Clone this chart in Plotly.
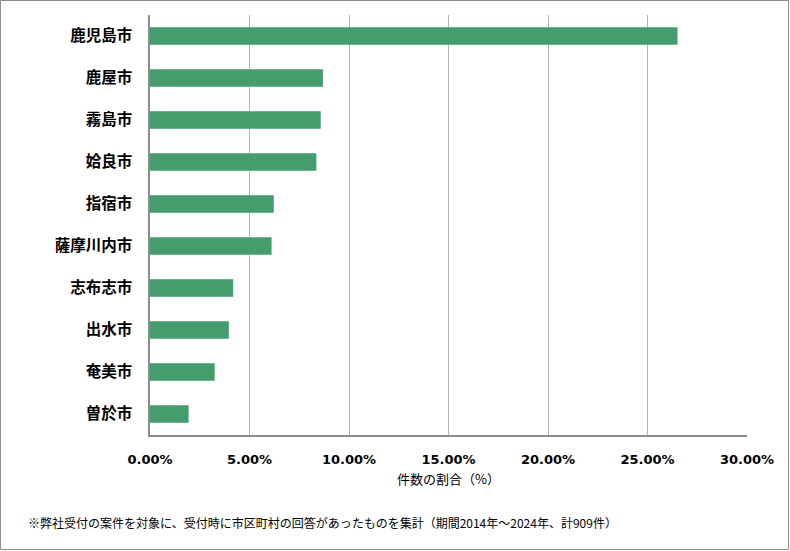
import plotly.graph_objects as go

cities = ["鹿児島市", "鹿屋市", "霧島市", "姶良市", "指宿市", "薩摩川内市", "志布志市", "出水市", "奄美市", "曽於市"]
shares = [26.51, 8.69, 8.58, 8.36, 6.22, 6.11, 4.18, 3.96, 3.25, 1.94]
tick_vals = [0, 5, 10, 15, 20, 25, 30]
tick_text = ["0.00%", "5.00%", "10.00%", "15.00%", "20.00%", "25.00%", "30.00%"]

W, H = 790, 551
L, R, T, B = 150, 43, 15, 116
pw, ph = W - L - R, H - T - B

fig = go.Figure(go.Bar(
    x=shares, y=cities, orientation="h",
    marker=dict(color="#459D6D", line=dict(width=0)),
    width=0.42,
))

fig.update_layout(
    width=W, height=H,
    margin=dict(l=L, r=R, t=T, b=B),
    paper_bgcolor="white", plot_bgcolor="white",
    showlegend=False,
    xaxis=dict(
        range=[0, 30], tickvals=tick_vals, ticktext=tick_text,
        showgrid=True, gridcolor="#b4b4b4", gridwidth=1,
        showline=True, linecolor="#8c8c8c", linewidth=1.5,
        zeroline=False, ticks="", ticklabelstandoff=12,
        tickfont=dict(family="DejaVu Sans", size=13, color="#000000", weight="bold"),
        title=dict(text="件数の割合（%）", standoff=9,
                   font=dict(family="Noto Sans CJK JP", size=13, color="#000000")),
        fixedrange=True,
    ),
    yaxis=dict(
        autorange="reversed",
        showline=True, linecolor="#8c8c8c", linewidth=1.5,
        showgrid=False, zeroline=False, ticks="", ticklabelstandoff=13,
        tickfont=dict(family="Noto Sans CJK JP", size=15.5, color="#000000", weight="bold"),
        fixedrange=True,
    ),
    annotations=[dict(
        text="※弊社受付の案件を対象に、受付時に市区町村の回答があったものを集計（期間2014年～2024年、計909件）",
        xref="paper", yref="paper",
        x=(26 - L) / pw, y=(T + ph - 522) / ph,
        xanchor="left", yanchor="middle", showarrow=False,
        font=dict(family="Noto Sans CJK JP", size=12, color="#000000"),
    )],
    shapes=[dict(
        type="rect", xref="paper", yref="paper",
        x0=(0.5 - L) / pw, x1=(W - 1.5 - L) / pw,
        y0=(T + ph - (H - 1.5)) / ph, y1=(T + ph - 0.5) / ph,
        line=dict(color="#8c8c8c", width=1), fillcolor="rgba(0,0,0,0)",
    )],
)

fig.write_html("out.html", config={"displayModeBar": False},
               post_script="document.body.style.margin='0';document.body.style.overflow='hidden';")
